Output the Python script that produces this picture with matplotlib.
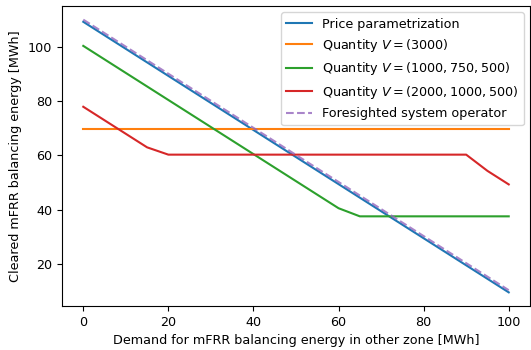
import matplotlib
matplotlib.use('Agg')
import matplotlib.pyplot as plt

# breakpoints of the cleared-energy curves, demand in other zone [MWh]
x_price = [0, 100]
y_price = [109.4, 9.4]

x_q3000 = [0, 100]
y_q3000 = [69.7, 69.7]

x_q1000 = [0, 60, 65, 100]
y_q1000 = [100.5, 40.5, 37.5, 37.5]

x_q2000 = [0, 15, 20, 90, 95, 100]
y_q2000 = [78.0, 63.0, 60.3, 60.3, 54.3, 49.3]

x_fore = [0, 100]
y_fore = [110.2, 10.2]

plt.rcParams['font.size'] = 9.2

fig = plt.figure(figsize=(5.31, 3.5), dpi=100)
ax = fig.add_axes([62/531., 44/350., 468/531., 300/350.])

ax.plot(x_price, y_price, color='tab:blue', label='Price parametrization')
ax.plot(x_q3000, y_q3000, color='tab:orange', label=r'Quantity $V = (3000)$')
ax.plot(x_q1000, y_q1000, color='tab:green', label=r'Quantity $V = (1000, 750, 500)$')
ax.plot(x_q2000, y_q2000, color='tab:red', label=r'Quantity $V = (2000, 1000, 500)$')
ax.plot(x_fore, y_fore, '--', color='tab:purple', alpha=0.8, label='Foresighted system operator')

ax.set_xticks([0, 20, 40, 60, 80, 100])
ax.set_yticks([20, 40, 60, 80, 100])
ax.set_xlabel('Demand for mFRR balancing energy in other zone [MWh]')
ax.set_ylabel('Cleared mFRR balancing energy [MWh]')
ax.legend(loc='upper right')

fig.savefig('out.png', dpi=100)
